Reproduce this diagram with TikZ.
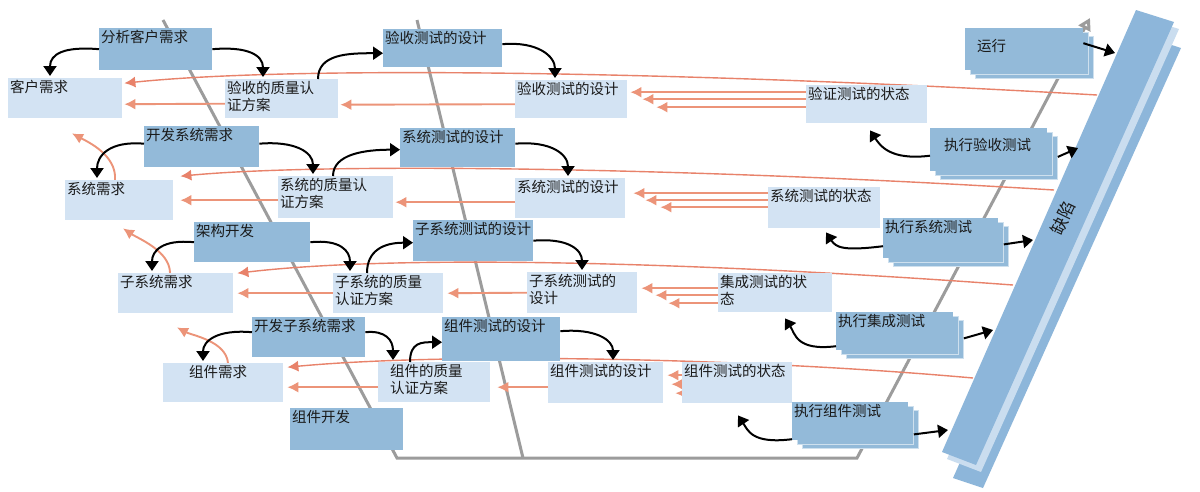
\documentclass[tikz,border=0pt]{standalone}
\usepackage{fontspec}
\newfontfamily\cjk{Noto Sans CJK SC}
\usetikzlibrary{arrows.meta,calc}
\pgfdeclarelayer{bg}\pgfdeclarelayer{mid}\pgfdeclarelayer{top}
\pgfsetlayers{bg,mid,main,top}
\definecolor{dkb}{HTML}{93BAD9}
\definecolor{ltb}{HTML}{D3E3F3}
\definecolor{org}{HTML}{EC9479}
\definecolor{orgd}{HTML}{E8826A}
\definecolor{gry}{HTML}{9C9C9C}
\definecolor{band}{HTML}{8DB6DA}
\definecolor{bandlt}{HTML}{CADDEF}
\definecolor{txt}{HTML}{1A1A1A}
\tikzset{
  dkbox/.style={fill=dkb, draw=none, inner sep=0pt},
  ltbox/.style={fill=ltb, draw=none, inner sep=0pt},
  shadowb/.style={draw=white!55!dkb, line width=0.8pt},
  lbl/.style={font=\cjk\fontsize{14.5}{17.5}\selectfont, text=txt, inner sep=2pt, align=left},
  orgarr/.style={draw=org, line width=1.9pt, -{Latex[length=11pt,width=11pt]}},
  orglong/.style={draw=orgd, line width=1.4pt, -{Latex[length=11pt,width=11pt]}},
  blkarr/.style={draw=black, line width=2pt, -{Triangle[length=10pt,width=13pt]}},
  gryline/.style={draw=gry, line width=3pt},
}
\newcommand\mybox[8][]{%
  \node[#3, anchor=north west, minimum width=#6pt, minimum height=#7pt] (#2) at (#4,#5) {};
  \node[lbl, anchor=north west, #1] (#2-t) at (#2.north west) {#8};}
\newcommand\stackbox[7][]{%
  \node[dkbox, shadowb, anchor=north west, minimum width=#5pt, minimum height=#6pt, xshift=10pt, yshift=-8pt] (#2-s2) at (#3,#4) {};
  \node[dkbox, shadowb, anchor=north west, minimum width=#5pt, minimum height=#6pt, xshift=5pt, yshift=-4pt] (#2-s1) at (#3,#4) {};
  \mybox[#1]{#2}{dkbox}{#3}{#4}{#5}{#6}{#7}}
\begin{document}
\begin{tikzpicture}[x=1pt,y=-1pt]
\useasboundingbox (0,0) rectangle (1200,491);
\begin{pgfonlayer}{bg}
\fill[white] (0,0) rectangle (1200,491);
\end{pgfonlayer}

% activity boxes
\mybox{A1}{dkbox}{99}{28}{113}{42}{分析客户需求}
\mybox{A2}{dkbox}{383}{29}{119}{38}{验收测试的设计}
\mybox{B1}{dkbox}{144}{126}{115}{41}{开发系统需求}
\mybox{B2}{dkbox}{400}{128}{115}{39}{系统测试的设计}
\mybox{C1}{dkbox}{194}{222}{116}{40}{架构开发}
\mybox{C2}{dkbox}{413}{220}{120}{41}{子系统测试的设计}
\mybox{D1}{dkbox}{252}{317}{113}{40}{开发子系统需求}
\mybox{D2}{dkbox}{442}{317}{118}{44}{组件测试的设计}
\mybox{E1}{dkbox}{290}{408}{113}{42}{组件开发}
\stackbox[xshift=10pt,yshift=-9pt]{run}{965}{28}{118}{42}{运行}
\stackbox[xshift=12pt,yshift=-8pt]{X1}{930}{128}{117}{43}{执行验收测试}
\stackbox{X2}{883}{218}{115}{40}{执行系统测试}
\stackbox{X3}{836}{312}{117}{38}{执行集成测试}
\stackbox{X4}{792}{402}{116}{38}{执行组件测试}

% artefact boxes
\mybox{kh}{ltbox}{8}{78}{114}{40}{客户需求}
\mybox{vqp}{ltbox}{225}{79}{113}{39}{验收的质量认\\证方案}
\mybox{ad}{ltbox}{515}{80}{112}{38}{验收测试的设计}
\mybox{vs}{ltbox}{806}{85}{121}{38}{验证测试的状态}
\mybox{sr}{ltbox}{65}{180}{108}{40}{系统需求}
\mybox{sqp}{ltbox}{278}{176}{115}{42}{系统的质量认\\证方案}
\mybox{sd}{ltbox}{515}{178}{110}{40}{系统测试的设计}
\mybox{ss}{ltbox}{768}{187}{112}{41}{系统测试的状态}
\mybox{ur}{ltbox}{118}{273}{115}{40}{子系统需求}
\mybox{uqp}{ltbox}{333}{273}{110}{40}{子系统的质量\\认证方案}
\mybox{ud}{ltbox}{527}{272}{110}{41}{子系统测试的\\设计}
\mybox{is}{ltbox}{718}{273}{114}{39}{集成测试的状\\态}
\mybox[xshift=24pt]{cr}{ltbox}{163}{363}{120}{39}{组件需求}
\mybox[xshift=10pt]{cqp}{ltbox}{378}{362}{112}{40}{组件的质量\\认证方案}
\mybox{cd}{ltbox}{548}{362}{115}{41}{组件测试的设计}
\mybox{cs}{ltbox}{682}{362}{110}{41}{组件测试的状态}

% defect band
\fill[band] (1150,38) -- (1181,48) -- (983,488) -- (953,478) -- cycle;
\fill[bandlt] (1141,17) -- (1179,29) -- (981,472) -- (947,459) -- cycle;
\fill[band] (1136,10) -- (1174,22) -- (976,465) -- (942,452) -- cycle;
\node[font=\cjk\fontsize{17}{17}\selectfont, text=txt, rotate=64, inner sep=0pt] (defect) at (1063,218) {缺陷};
\coordinate (dA) at (1115,53);
\coordinate (dB) at (1078,148);
\coordinate (dC) at (1033,240);
\coordinate (dD) at (993,330);
\coordinate (dE) at (948,430);
\coordinate (o1) at (1097,95);
\coordinate (o2) at (1054,190);
\coordinate (o3) at (1013,285);
\coordinate (o4) at (973,378);

% grey V lines
\begin{pgfonlayer}{bg}
\coordinate (g1) at (163,20);
\coordinate (g2) at (397,458);
\coordinate (g3) at (857,458);
\coordinate (g4) at (1090,18);
\coordinate (g5) at (417,20);
\coordinate (g6) at (523,458);
\draw[gryline, -{Triangle[open,length=12pt,width=13pt]}] (g1) -- (g2) -- (g3) -- (g4);
\draw[gryline] (g5) -- (g6);
\end{pgfonlayer}

% orange traceability lines
\begin{pgfonlayer}{mid}
% row 1
\draw[orglong] (o1) .. controls (700,72) and (300,65) .. ($(kh.east)+(2,-15)$);
\draw[orgarr] ($(vqp.west)+(0,5)$) -- ($(kh.east)+(2,6)$);
\draw[orgarr] ($(ad.west)+(0,5)$) -- ($(vqp.east)+(2,6)$);
\draw[orgarr] ($(vs.west)+(0,-12)$) -- ($(ad.east)+(3,-7)$);
\draw[orgarr] ($(vs.west)+(0,-5)$) -- ($(ad.east)+(15,0)$);
\draw[orgarr] ($(vs.west)+(0,3)$) -- ($(ad.east)+(29,8)$);
% row 2
\draw[orglong] (o2) .. controls (700,168) and (330,162) .. ($(sr.east)+(7,-24)$);
\draw[orgarr] ($(sqp.west)+(0,3)$) -- ($(sr.east)+(7,0)$);
\draw[orgarr] ($(sd.west)+(0,4)$) -- ($(sqp.east)+(2,5)$);
\draw[orgarr] ($(ss.west)+(0,-14.5)$) -- ($(sd.east)+(8,-5)$);
\draw[orgarr] ($(ss.west)+(0,-7.5)$) -- ($(sd.east)+(20,2)$);
\draw[orgarr] ($(ss.west)+(0,-0.5)$) -- ($(sd.east)+(35,9)$);
% row 3
\draw[orglong] (o3) .. controls (700,262) and (400,254) .. ($(ur.east)+(4,-20)$);
\draw[orgarr] (uqp.west) -- ($(ur.east)+(4,0)$);
\draw[orgarr] (ud.west) -- ($(uqp.east)+(4,0)$);
\draw[orgarr] ($(is.west)+(0,-4.5)$) -- ($(ud.east)+(4,-4.5)$);
\draw[orgarr] ($(is.west)+(0,2.5)$) -- ($(ud.east)+(18,2.5)$);
\draw[orgarr] ($(is.west)+(0,10.5)$) -- ($(ud.east)+(31,10.5)$);
% row 4
\draw[orglong] (o4) .. controls (750,358) and (450,352) .. ($(cr.east)+(4,-15.5)$);
\draw[orgarr] ($(cqp.west)+(0,5)$) -- ($(cr.east)+(4,4.5)$);
\draw[orgarr] ($(cd.west)+(0,4.5)$) -- ($(cqp.east)+(7,5)$);
\draw[orgarr] ($(cs.west)+(0,-7.5)$) -- ($(cd.east)+(4,-7.5)$);
\draw[orgarr] ($(cs.west)+(0,1.5)$) -- ($(cd.east)+(8,1.5)$);
\draw[orgarr] ($(cs.west)+(0,10.5)$) -- ($(cd.east)+(12,10.5)$);
% upward traces
\draw[orgarr] ($(sr.north west)+(50,0)$) .. controls +(2,-25) and +(15,8) .. ($(kh.south west)+(64,15)$);
\draw[orgarr] ($(ur.north west)+(52,0)$) .. controls +(0,-22) and +(15,10) .. ($(sr.south west)+(58,8)$);
\draw[orgarr] ($(cr.north west)+(65,0)$) .. controls +(-2,-22) and +(15,8) .. ($(ur.south west)+(59,14)$);
\end{pgfonlayer}

% black activity arrows
\begin{pgfonlayer}{top}
\draw[blkarr] (A1.west) .. controls +(-35,-3) and +(0,-22) .. ($(kh.north west)+(42,-2)$);
\draw[blkarr] (A1.east) .. controls +(35,-3) and +(0,-22) .. ($(vqp.north west)+(38,-2)$);
\draw[blkarr] ($(vqp.north west)+(93,0)$) .. controls +(0,-25) and +(-35,0) .. ([yshift=-5pt]A2.west);
\draw[blkarr] ([yshift=4pt]A2.east) .. controls +(35,-3) and +(0,-22) .. ($(ad.north west)+(40,-2)$);

\draw[blkarr] ([yshift=3pt]B1.west) .. controls +(-35,-3) and +(0,-22) .. ($(sr.north west)+(32,-2)$);
\draw[blkarr] ([yshift=3pt]B1.east) .. controls +(35,-3) and +(0,-22) .. ($(sqp.north west)+(35,-2)$);
\draw[blkarr] ($(sqp.north west)+(55,0)$) .. controls +(0,-22) and +(-35,0) .. ([yshift=-2pt]B2.west);
\draw[blkarr] ([yshift=4pt]B2.east) .. controls +(35,-3) and +(0,-22) .. ($(sd.north west)+(53,-2)$);

\draw[blkarr] (C1.west) .. controls +(-32,-3) and +(0,-20) .. ($(ur.north west)+(34,-2)$);
\draw[blkarr] (C1.east) .. controls +(30,-3) and +(0,-20) .. ($(uqp.north west)+(17,-2)$);
\draw[blkarr] ($(uqp.north west)+(34,0)$) .. controls +(0,-22) and +(-30,0) .. ([yshift=-2pt]C2.west);
\draw[blkarr] (C2.east) .. controls +(35,-3) and +(0,-20) .. ($(ud.north west)+(55,-2)$);

\draw[blkarr] ([yshift=5pt]D1.west) .. controls +(-35,-3) and +(0,-20) .. ($(cr.north west)+(40,-2)$);
\draw[blkarr] ([yshift=5pt]D1.east) .. controls +(20,-2) and +(0,-20) .. ($(cqp.north west)+(15,-2)$);
\draw[blkarr] ($(cqp.north west)+(32,0)$) .. controls +(0,-20) and +(-20,0) .. ([yshift=-3pt]D2.west);
\draw[blkarr] ([yshift=8pt]D2.east) .. controls +(35,-3) and +(0,-20) .. ($(cd.north west)+(65,-2)$);

% execution -> status
\draw[blkarr] ([yshift=-6pt]X1.west) .. controls +(-40,5) and +(10,15) .. ($(vs.south west)+(64,7)$);
\draw[blkarr] ([yshift=-8pt]X2.west) .. controls +(-40,5) and +(10,15) .. ($(ss.south west)+(58,4)$);
\draw[blkarr] ([yshift=-15pt]X3.west) .. controls +(-40,5) and +(10,15) .. ($(is.south west)+(67,6)$);
\draw[blkarr] ([yshift=-18pt]X4.west) .. controls +(-40,5) and +(10,15) .. ($(cs.south west)+(56,12)$);

% to defects
\draw[blkarr] ([yshift=6pt]run.east) -- (dA);
\draw[blkarr] ([yshift=1pt]X1-s2.east) -- (dB);
\draw[blkarr] ([yshift=-2pt]X2-s1.east) -- (dC);
\draw[blkarr] ([yshift=1pt]X3-s2.east) -- (dD);
\draw[blkarr] ([yshift=-9pt]X4-s1.east) -- (dE);
\end{pgfonlayer}
\end{tikzpicture}
\end{document}
